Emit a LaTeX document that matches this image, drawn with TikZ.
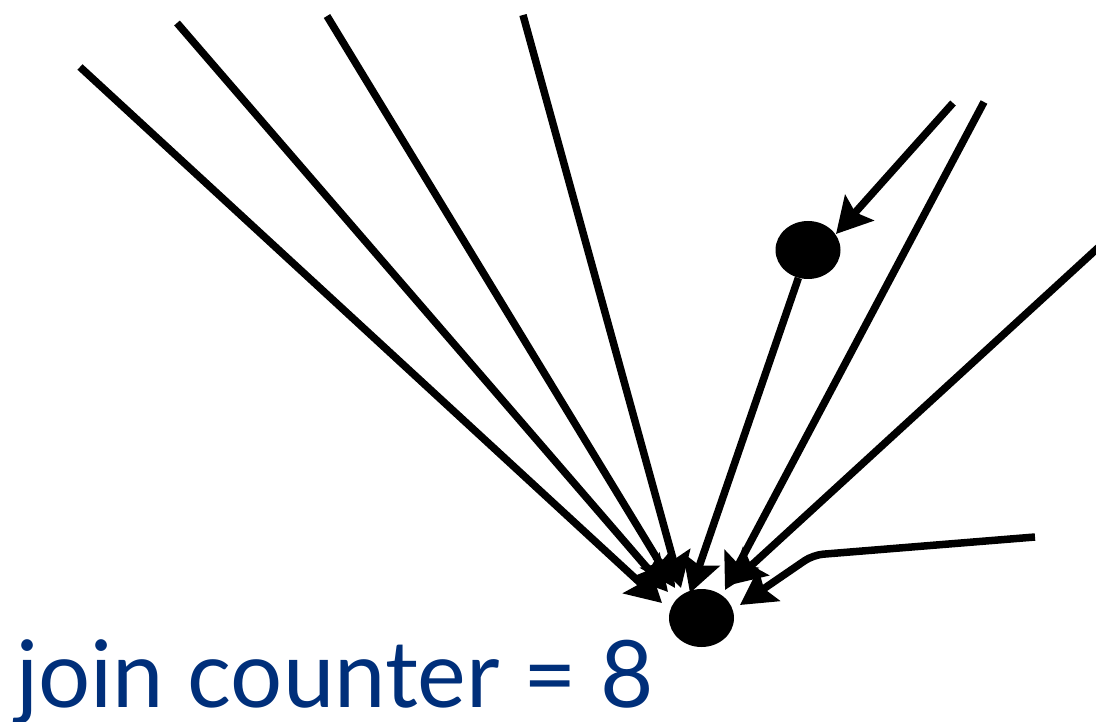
\documentclass[tikz,border=0pt]{standalone}
\usepackage{fontspec}
\setmainfont{Lato}
\usetikzlibrary{arrows.meta,shapes.geometric}
\definecolor{jcblue}{RGB}{0,47,122}
\begin{document}
\begin{tikzpicture}[x=1pt,y=-1pt,
  arr/.style={-{Stealth[length=35pt,width=38pt,inset=6pt]}, line width=7.5pt},
  dot/.style={ellipse, fill=black, minimum width=65pt, minimum height=58pt, inner sep=0pt},
  lbl/.style={anchor=base west, text=jcblue, inner sep=0pt, font=\fontsize{93}{100}\selectfont}]
\useasboundingbox (0,0) rectangle (1096,722);
\node[dot] (top) at (808,250) {};
\node[dot] (bot) at (701.5,618) {};
\coordinate (s1) at (80,67);
\coordinate (s2) at (177,23);
\coordinate (s3) at (327,16);
\coordinate (s4) at (523,15);
\coordinate (s6) at (984,102);
\coordinate (s7) at (1100,246);
\coordinate (s8) at (1035,537);
\coordinate (b8) at (813,555);
\coordinate (s9) at (953,103);
\draw[arr] (s1) -- ([shift={(-39.5,-15)}]bot.center);
\draw[arr] (s2) -- ([shift={(-33.5,-26)}]bot.center);
\draw[arr] (s3) -- ([shift={(-26.5,-30)}]bot.center);
\draw[arr] (s4) -- ([shift={(-20.5,-30)}]bot.center);
\draw[arr] (top) -- ([shift={(-11.5,-25)}]bot.center);
\draw[arr] (s6) -- ([shift={(23.5,-28)}]bot.center);
\draw[arr] (s7) -- ([shift={(28.5,-33)}]bot.center);
\draw[arr, rounded corners=10pt] (s8) -- (b8) -- ([shift={(38.5,-13)}]bot.center);
\draw[arr] (s9) -- ([shift={(28,-16)}]top.center);
\node[lbl] (label) at (16,707) {\scalebox{0.99}[1]{join counter = 8}};
\end{tikzpicture}
\end{document}
